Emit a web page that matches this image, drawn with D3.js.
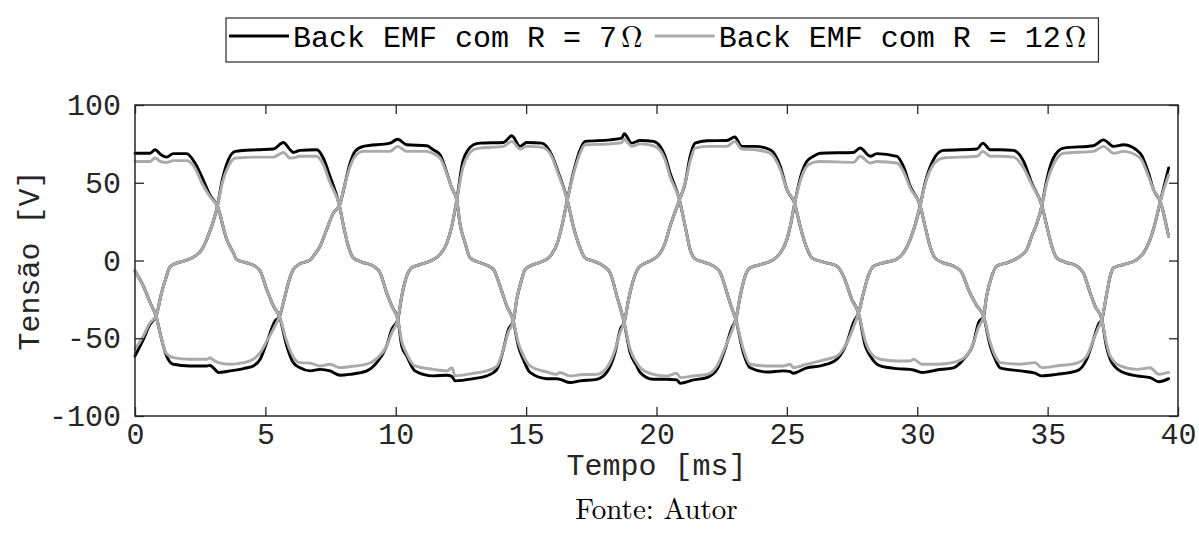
<!DOCTYPE html>
<html><head><meta charset="utf-8">
<script src="https://cdn.jsdelivr.net/npm/d3@7"></script>
<style>body{margin:0;background:#fff;} svg{display:block;}</style>
</head><body><svg id="chart" width="1199" height="552"></svg>
<script>
// ---- data ----
const timeTicks = [0, 5, 10, 15, 20, 25, 30, 35, 40];
const voltTicks = [-100, -50, 0, 50, 100];
const seriesNames = ["Back EMF com R = 7", "Back EMF com R = 12"];
const seriesColors = ["#000000", "#aaaaaa"];
const xLabel = "Tempo [ms]";
const yLabel = "Tensão [V]";
const sourceText = "Fonte: Autor";
// rows: [time (ms), R = 7 Ω (V), R = 12 Ω (V)]
const phaseA = [[0,69,63.7],[0.58,69,63.7],[0.77,71.2,65.9],[1.0,68,63.5],[1.21,66.5,63.1],[1.47,68.7,64.2],[1.98,68.7,64.2],[2.30,62.7,59.5],[2.56,54,50],[2.88,42,41],[3.16,35,35],[3.52,13.5,13.5],[3.77,5,5],[3.90,0.6,0.6],[4.28,-1.5,-1.5],[4.60,-3.6,-3.6],[4.80,-6.8,-6.8],[5.05,-18.6,-18.6],[5.31,-29.3,-29.3],[5.54,-36,-36],[5.82,-55,-52],[6.07,-65.7,-62],[6.33,-69,-65.7],[6.71,-71,-66],[7.10,-70,-67.8],[7.48,-71,-66.7],[7.87,-73.8,-68.9],[8.25,-73.2,-68.2],[8.89,-71,-66.7],[9.27,-65.7,-63.1],[9.65,-55,-55],[9.85,-44.3,-46.4],[10.08,-37.9,-37.9],[10.23,-22.9,-22.9],[10.42,-10,-10],[10.61,-4.7,-4.7],[10.93,-2.6,-2.6],[11.44,0.6,0.6],[11.70,3.9,3.9],[11.96,11.3,11.3],[12.15,22,22],[12.34,39,39],[12.59,64.8,60.5],[12.98,74.4,71.2],[13.23,75.5,72.3],[14.13,75.9,73.4],[14.45,80.2,76.6],[14.77,73.4,71.7],[15.02,75.9,73.4],[15.60,75.5,72.9],[15.98,68,67],[16.24,56.3,55.2],[16.58,39,39],[16.81,22,22],[17.07,8.1,8.1],[17.26,1.7,1.7],[17.58,-0.4,-0.4],[17.97,-3.6,-3.6],[18.22,-7.9,-7.9],[18.48,-22.9,-22.9],[18.76,-40,-40],[18.99,-59.3,-57.1],[19.24,-67.8,-65.7],[19.37,-72,-68.9],[19.88,-76.4,-73.2],[20.40,-76.4,-74.2],[20.78,-76.8,-72.5],[20.91,-79,-75.3],[21.42,-76.8,-74.2],[21.93,-75.3,-73.2],[22.32,-70,-67.8],[22.63,-57,-56],[22.89,-43.2,-45.3],[23.04,-37.9,-37.9],[23.21,-22.9,-22.9],[23.40,-10,-10],[23.59,-4.7,-4.7],[23.98,-2.6,-2.6],[24.49,0.6,0.6],[24.75,4.9,4.9],[25.00,13.5,13.5],[25.13,22,22],[25.29,35.9,35.9],[25.57,56.3,54],[25.76,63.7,60.5],[26.02,67,63.1],[26.28,69,63.7],[27.55,69.5,63.1],[27.81,72.3,67],[28.20,67,62.7],[28.45,68.7,63.7],[29.22,67,62.7],[29.47,60.5,57.3],[29.73,47.7,46.6],[30.11,35.3,35.3],[30.30,22,22],[30.49,9.2,9.2],[30.68,1.7,1.7],[31.00,-1.5,-1.5],[31.39,-3.6,-3.6],[31.71,-7.9,-7.9],[31.96,-18.6,-18.6],[32.29,-29.3,-29.3],[32.54,-35.7,-35.7],[32.80,-55,-52.8],[32.99,-63.5,-61.4],[33.18,-69,-65.7],[33.95,-71,-66.7],[34.52,-72.5,-65.7],[34.78,-74.2,-68.9],[35.35,-73.2,-67.8],[36.12,-71,-66],[36.50,-63.5,-61.4],[36.76,-50.7,-50.7],[36.95,-41,-43.2],[37.08,-37.9,-37.9],[37.25,-22.9,-22.9],[37.40,-10,-10],[37.53,-4.7,-4.7],[37.91,-2.6,-2.6],[38.42,0.6,0.6],[38.68,4.9,4.9],[38.93,13.5,13.5],[39.09,22,22],[39.32,38,38],[39.64,59.5,55]];
const phaseB = [[0,-61.4,-57.1],[0.32,-50.7,-48.6],[0.58,-41,-40],[0.70,-38.5,-38],[0.81,-35.7,-35.7],[1.02,-20.7,-20.7],[1.21,-10,-10],[1.32,-4.7,-4.7],[1.47,-2.6,-2.6],[1.98,0.2,0.2],[2.30,2.8,2.8],[2.56,7,7],[2.75,13.5,13.5],[2.94,22,22],[3.16,35,35],[3.35,52,50],[3.58,64.8,60.5],[3.85,70.2,65.9],[4.67,71.2,66.5],[5.31,71.7,66.5],[5.69,75.9,69.5],[5.95,71.2,65.9],[6.07,69.5,66],[6.33,70.8,67],[6.97,71.2,67],[7.22,65.9,61.6],[7.48,54,50],[7.84,35.3,35.3],[8.00,22,22],[8.18,9.2,9.2],[8.37,1.7,1.7],[8.70,-1,-1],[9.14,-3.6,-3.6],[9.40,-7.9,-7.9],[9.65,-20.7,-20.7],[9.85,-29.3,-29.3],[10.08,-37.9,-37.9],[10.23,-55,-52],[10.42,-61.4,-60],[10.74,-71,-67.8],[11.44,-74.2,-70],[11.96,-73.8,-71],[12.15,-74.5,-69],[12.28,-77.4,-74.2],[12.98,-76,-72.5],[13.49,-74.2,-71],[13.88,-70,-67.8],[14.13,-57,-57],[14.32,-44.3,-46],[14.51,-39,-39],[14.64,-25,-25],[14.83,-12.2,-12.2],[14.96,-5.8,-5.8],[15.28,-2.6,-2.6],[15.66,-0.4,-0.4],[15.98,3.9,3.9],[16.20,11.3,11.3],[16.37,22,22],[16.58,39,39],[16.81,56.3,55.2],[17.07,71.2,69],[17.26,76.6,74.4],[18.22,77.6,75],[18.67,78.7,75.9],[18.76,81.5,78],[19.05,75.5,73.4],[19.37,77.2,75],[19.88,76.6,73.8],[20.14,73.4,70.8],[20.33,67,64.8],[20.52,56.3,54],[20.88,39,39],[21.10,22,22],[21.29,7,7],[21.48,1,1],[21.80,-1,-1],[22.19,-3.6,-3.6],[22.45,-7.9,-7.9],[22.70,-20.7,-20.7],[22.86,-29.3,-29.3],[23.04,-37.9,-37.9],[23.33,-59.3,-57.1],[23.59,-69,-66.7],[24.23,-71.7,-67.8],[24.87,-71,-67.8],[25.13,-71.5,-66.7],[25.25,-72.5,-69],[25.76,-69,-66.7],[26.28,-67.8,-64.6],[26.53,-66.7,-63.5],[26.92,-63.5,-61.4],[27.30,-52.8,-53],[27.55,-40,-43],[27.75,-33.6,-33.6],[27.94,-20.7,-20.7],[28.14,-9,-9],[28.33,-3.6,-3.6],[28.71,-1.5,-1.5],[29.22,1,1],[29.47,4.9,4.9],[29.73,13.5,13.5],[29.92,23,23],[30.11,35.3,35.3],[30.30,49.8,48.8],[30.62,64.8,61.6],[31.00,70.8,65.9],[32.29,71.7,67],[32.52,75.5,70.2],[32.80,71.2,67],[33.18,71.2,67],[33.69,70.8,66.5],[34.08,63.7,59.5],[34.39,49.8,48.8],[34.78,35.3,35.3],[34.97,22,22],[35.16,9.2,9.2],[35.35,1.7,1.7],[35.67,-1,-1],[36.12,-3.6,-3.6],[36.37,-7.9,-7.9],[36.63,-20.7,-20.7],[36.82,-29.3,-29.3],[37.08,-37.9,-37.9],[37.25,-55,-52.8],[37.40,-63.5,-61.4],[37.78,-71,-67.8],[38.42,-74.2,-70],[38.93,-75.3,-69],[39.26,-78,-73.2],[39.64,-76,-72]];
const phaseC = [[0,-6.8,-6.8],[0.32,-16.5,-16.5],[0.58,-27,-27],[0.81,-36,-36],[1.02,-50.7,-50.7],[1.21,-61.4,-60],[1.47,-66.7,-62.5],[2.10,-67.8,-63.5],[2.75,-67.8,-63.5],[2.88,-67.5,-62.5],[3.00,-68.9,-64],[3.20,-72,-65.7],[3.64,-71,-66.7],[4.16,-69.5,-65.7],[4.54,-67.8,-63.5],[4.80,-63.5,-59.3],[5.05,-52.8,-52],[5.37,-39,-42],[5.54,-36,-36],[5.72,-25,-25],[5.92,-12.2,-12.2],[6.07,-5.8,-5.8],[6.33,-2.1,-2.1],[6.71,0.2,0.2],[6.84,2.8,2.8],[7.10,9.2,9.2],[7.35,19.9,19.9],[7.61,30.6,30.6],[7.84,35.3,35.3],[8.06,49.8,49.8],[8.25,62.7,60.5],[8.44,70.2,67],[8.76,73.4,70.2],[9.78,75.5,70.2],[10.07,78,73.4],[10.42,74.4,70.2],[11.19,73.8,70.2],[11.44,71.2,68.7],[11.70,68,65.9],[11.96,56.3,55.8],[12.15,46.6,46.6],[12.34,39,39],[12.46,24,24],[12.66,11.3,11.3],[12.85,1.7,1.7],[13.43,-2.6,-2.6],[13.75,-5.8,-5.8],[14.00,-16.5,-16.5],[14.26,-29.3,-29.3],[14.51,-39,-39],[14.70,-55,-53],[14.89,-63.5,-61],[15.15,-72,-67.8],[15.79,-76,-71.7],[16.17,-76,-73.2],[16.30,-76.4,-72],[16.69,-78.5,-74.2],[17.07,-77.4,-73.5],[17.71,-76.4,-73.2],[18.09,-72,-69],[18.41,-59.3,-57.5],[18.61,-44.3,-46],[18.76,-40,-40],[18.93,-25,-25],[19.12,-12.2,-12.2],[19.31,-4.7,-4.7],[19.60,-1.5,-1.5],[19.90,1,1],[20.15,5,5],[20.33,11.3,11.3],[20.52,22,22],[20.88,39,39],[21.10,49.8,49.8],[21.29,67,63.7],[21.48,75.5,72.3],[21.93,77,73.4],[22.70,77.2,73.4],[23.00,79.4,76.6],[23.27,73.4,71.7],[23.79,73.4,71.2],[24.36,71.2,69],[24.75,60.5,58.4],[25.00,45.6,45.6],[25.29,37,37],[25.51,22,22],[25.76,8.1,8.1],[25.96,1.7,1.7],[26.53,-1.5,-1.5],[26.92,-3.6,-3.6],[27.17,-10,-10],[27.49,-25,-25],[27.75,-34,-34],[28.01,-55,-52],[28.20,-61.4,-59],[28.58,-67.8,-63.5],[29.22,-69.5,-64.6],[29.73,-70,-64.6],[29.86,-70.4,-63.5],[30.18,-72,-66.7],[30.75,-70.4,-66.7],[31.39,-69,-65.5],[31.77,-63.5,-63],[32.16,-52.8,-52.8],[32.35,-40,-43],[32.54,-36,-36],[32.66,-22.9,-22.9],[32.86,-10,-10],[33.05,-3.6,-3.6],[33.44,-1.5,-1.5],[33.95,2.8,2.8],[34.20,7,7],[34.39,15.6,15.6],[34.59,24,24],[34.78,35.3,35.3],[34.97,52,50],[35.22,65.9,61.6],[35.61,72.3,69],[36.76,73.8,70.2],[37.14,77.6,73.4],[37.53,73.4,69],[37.91,74.4,70.2],[38.55,69,65.9],[38.87,56.3,54],[39.06,45.6,45.6],[39.32,38,38],[39.64,15.6,15.6]];
const phases = [phaseA, phaseB, phaseC];

// ---- chart ----
const W = 1199, H = 552;
const plot = {left: 135, right: 1178, top: 105, bottom: 416};
const mono = "'Courier New', 'Nimbus Mono PS', 'Nimbus Mono L', FreeMono, 'Liberation Mono', monospace";
const serif = "'Latin Modern Roman', 'CMU Serif', 'Liberation Serif', 'DejaVu Serif', serif";
const monoSize = "30px";
const axisColor = "#262626";

const svg = d3.select("#chart");
svg.append("rect").attr("width", W).attr("height", H).attr("fill", "#fff");

const x = d3.scaleLinear().domain([0, 40]).range([plot.left, plot.right]);
const y = d3.scaleLinear().domain([-100, 100]).range([plot.bottom, plot.top]);

// lines: R = 7 (black) first, then R = 12 (gray) on top
const line = (col) => d3.line()
  .x(d => x(d[0]))
  .y(d => y(d[col]))
  .curve(d3.curveMonotoneX);

const gLines = svg.append("g");
[1, 2].forEach((col, si) => {
  phases.forEach(ph => {
    gLines.append("path")
      .attr("d", line(col)(ph))
      .attr("fill", "none")
      .attr("stroke", seriesColors[si])
      .attr("stroke-width", 2.9)
      .attr("stroke-linejoin", "round")
      .attr("stroke-linecap", "round");
  });
});

// axes with inward ticks
const tickLen = 9;
function styleAxis(g, labels) {
  g.select(".domain").remove();
  g.selectAll(".tick line").attr("stroke", axisColor).attr("stroke-width", 1.3);
  g.selectAll(".tick text")
    .attr("fill", axisColor)
    .style("font-family", mono)
    .style("font-size", monoSize);
  if (!labels) g.selectAll(".tick text").remove();
}
const xb = svg.append("g").attr("transform", `translate(0,${plot.bottom})`)
  .call(d3.axisBottom(x).tickValues(timeTicks).tickSize(-tickLen).tickPadding(7).tickFormat(d3.format("d")));
styleAxis(xb, true);
const xt = svg.append("g").attr("transform", `translate(0,${plot.top})`)
  .call(d3.axisTop(x).tickValues(timeTicks).tickSize(-tickLen));
styleAxis(xt, false);
const yl = svg.append("g").attr("transform", `translate(${plot.left},0)`)
  .call(d3.axisLeft(y).tickValues(voltTicks).tickSize(-tickLen).tickPadding(14).tickFormat(d => d < 0 ? "-" + Math.abs(d) : String(d)));
styleAxis(yl, true);
const yr = svg.append("g").attr("transform", `translate(${plot.right},0)`)
  .call(d3.axisRight(y).tickValues(voltTicks).tickSize(-tickLen));
styleAxis(yr, false);

// frame
svg.append("rect")
  .attr("x", plot.left).attr("y", plot.top)
  .attr("width", plot.right - plot.left).attr("height", plot.bottom - plot.top)
  .attr("fill", "none").attr("stroke", axisColor).attr("stroke-width", 1.5);

// axis labels
svg.append("text")
  .attr("x", (plot.left + plot.right) / 2).attr("y", 475)
  .attr("text-anchor", "middle")
  .style("font-family", mono).style("font-size", monoSize).attr("fill", axisColor)
  .text(xLabel);
svg.append("text")
  .attr("transform", `translate(39,${(plot.top + plot.bottom) / 2}) rotate(-90)`)
  .attr("text-anchor", "middle")
  .style("font-family", mono).style("font-size", monoSize).attr("fill", axisColor)
  .text(yLabel);
svg.append("text")
  .attr("x", (plot.left + plot.right) / 2).attr("y", 519)
  .attr("text-anchor", "middle")
  .style("font-family", serif).style("font-size", "29px").attr("fill", "#000")
  .text(sourceText);

// legend
const leg = svg.append("g");
const legBox = leg.append("rect").attr("x", 226).attr("y", 18).attr("height", 44)
  .attr("fill", "#fff").attr("stroke", axisColor).attr("stroke-width", 1.2);
let cursor = 229;
seriesNames.forEach((name, i) => {
  leg.append("line")
    .attr("x1", cursor).attr("x2", cursor + 60).attr("y1", 36).attr("y2", 36)
    .attr("stroke", seriesColors[i]).attr("stroke-width", 2.9);
  cursor += 64;
  const t = leg.append("text").attr("x", cursor).attr("y", 47)
    .style("font-family", mono).style("font-size", monoSize).attr("fill", "#000")
    .text(name);
  cursor += t.node().getComputedTextLength() + 4;
  const o = leg.append("text").attr("x", cursor).attr("y", 47)
    .style("font-family", serif).style("font-size", "30px").attr("fill", "#000")
    .text("\u03A9");
  cursor += o.node().getComputedTextLength() + 12;
});
legBox.attr("width", cursor - 226);
</script>
</body></html>
